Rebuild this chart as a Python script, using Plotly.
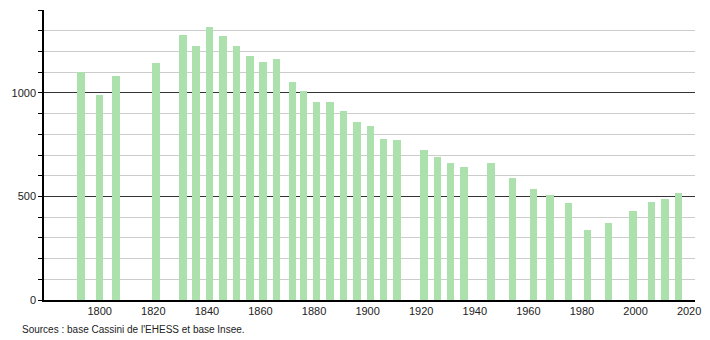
import plotly.graph_objects as go

years = [1793, 1800, 1806, 1821, 1831, 1836, 1841, 1846, 1851, 1856, 1861, 1866,
         1872, 1876, 1881, 1886, 1891, 1896, 1901, 1906, 1911, 1921, 1926, 1931,
         1936, 1946, 1954, 1962, 1968, 1975, 1982, 1990, 1999, 2006, 2011, 2016]
population = [1103, 990, 1082, 1143, 1280, 1227, 1317, 1275, 1227, 1180, 1150, 1163,
              1053, 1011, 957, 957, 913, 858, 841, 778, 774, 725, 691, 660,
              641, 660, 588, 536, 506, 467, 338, 373, 428, 473, 488, 517]
x_ticks = [1800, 1820, 1840, 1860, 1880, 1900, 1920, 1940, 1960, 1980, 2000, 2020]
y_ticks = [0, 500, 1000]
source_text = "Sources : base Cassini de l'EHESS et base Insee."

W, H = 710, 340
L, R, T, B = 44, 9, 10, 40
x_range = [1779.2, 2022.2]
y_range = [0, 1400]

fig = go.Figure()
fig.add_trace(go.Bar(
    x=years, y=population, width=2.8,
    marker=dict(color="rgb(172,224,172)", line=dict(width=0)),
    hoverinfo="x+y",
))

fig.update_layout(
    width=W, height=H,
    margin=dict(l=L, r=R, t=T, b=B),
    paper_bgcolor="white", plot_bgcolor="white",
    font=dict(family="Liberation Sans, Arial, sans-serif", size=11, color="#222222"),
    showlegend=False,
    bargap=0,
    xaxis=dict(range=x_range, tickvals=x_ticks, ticks="", showgrid=False,
               showline=True, linecolor="black", linewidth=1.5, zeroline=False,
               tickfont=dict(size=11), fixedrange=True),
    yaxis=dict(range=y_range, tickvals=y_ticks, ticks="outside", ticklen=4,
               tickcolor="black", showline=True, linecolor="black", linewidth=1.5,
               showgrid=True, gridcolor="#333333", gridwidth=1,
               zeroline=False, tickfont=dict(size=11),
               minor=dict(dtick=100, tick0=0, showgrid=True, gridcolor="#cccccc",
                          gridwidth=1, ticks="outside", ticklen=4, tickcolor="black"),
               fixedrange=True),
    annotations=[dict(text=source_text, xref="paper", yref="paper",
                      x=(20 - L) / (W - L - R), y=-(329 - (H - B)) / (H - T - B),
                      xanchor="left", yanchor="middle", showarrow=False,
                      font=dict(size=10, color="#222222"))],
)

fig.write_html("out.html")
